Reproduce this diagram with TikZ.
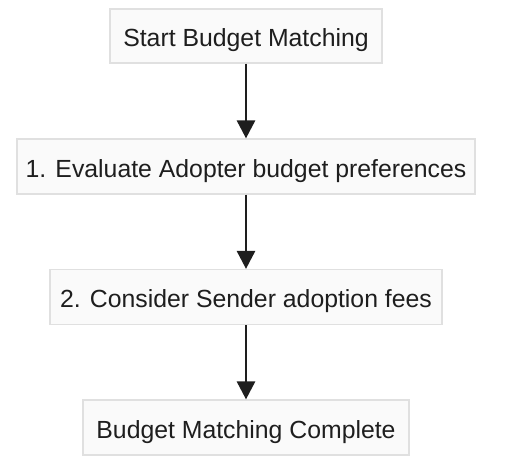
\documentclass[tikz,border=0pt]{standalone}
\usepackage{fontspec}
\setmainfont{Liberation Sans}
\usetikzlibrary{arrows.meta}
\definecolor{boxfill}{HTML}{FAFAFA}
\definecolor{boxline}{HTML}{E0E0E0}
\definecolor{ink}{HTML}{1E1E1E}
\begin{document}
\begin{tikzpicture}[x=1bp,y=-1bp,
  stepbox/.style={draw=boxline,fill=boxfill,line width=1.2bp,minimum height=55bp,inner sep=0pt,
    text height=23bp,text depth=1.4bp,
    text=ink,font=\fontsize{24.8bp}{29bp}\selectfont},
  flow/.style={draw=ink,line width=2.8bp,-{Triangle[width=18bp,length=18bp]}}]
\useasboundingbox (0,0) rectangle (516,466);
\node[stepbox,minimum width=272bp,minimum height=54bp] (s) at (246,36) {Start Budget Matching};
\node[stepbox,minimum width=458bp] (a) at (246,166.5) {1. Evaluate Adopter budget preferences};
\node[stepbox,minimum width=392bp] (b) at (246,297) {2. Consider Sender adoption fees};
\node[stepbox,minimum width=326bp] (e) at (246,427.5) {Budget Matching Complete};
\draw[flow] (s) -- (a);
\draw[flow] (a) -- (b);
\draw[flow] (b) -- (e);
\end{tikzpicture}
\end{document}
